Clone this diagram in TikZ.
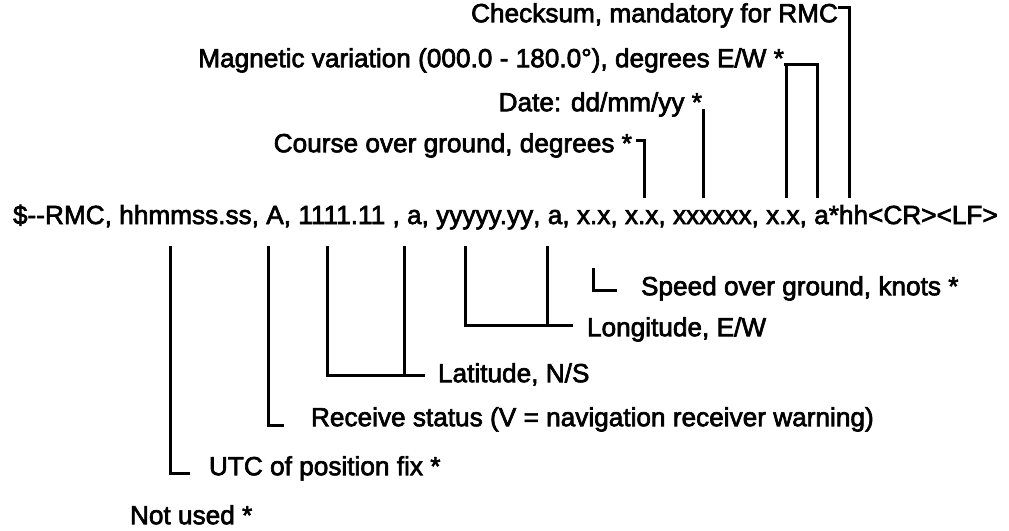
\documentclass[tikz,border=0pt]{standalone}
\usepackage{fontspec}
\setmainfont{Liberation Sans}
\newfontfamily\scanfont{Liberation Sans}[FakeBold=2.5]
\usetikzlibrary{positioning,calc}
\tikzset{
  fld/.style={inner sep=0pt, outer sep=0pt, text height=0.72em, text depth=0.2em},
  note/.style={inner sep=0pt, outer sep=0pt, text height=0.72em, text depth=0.2em},
  lead/.style={line width=1.5pt}
}
\newcommand{\sepc}{,\ \null}

\begin{document}
\begin{tikzpicture}[x=0.5pt, y=-0.5pt, font=\scanfont\fontsize{13.1}{15}\selectfont]
  \useasboundingbox (0,0) rectangle (1009,531);

  % the sentence, one node per field
  \node[fld, anchor=base west] (rmc) at (13,224) {\$--RMC\sepc};
  \node[fld, base right=0pt of rmc] (utc) {hhmmss.ss};
  \node[fld, base right=0pt of utc] (c1) {\sepc};
  \node[fld, base right=0pt of c1] (stat) {A};
  \node[fld, base right=0pt of stat] (c2) {\sepc};
  \node[fld, base right=0pt of c2] (lat) {1111.11};
  \node[fld, base right=0pt of lat] (c3) {\ \sepc};
  \node[fld, base right=0pt of c3] (latns) {a};
  \node[fld, base right=0pt of latns] (c4) {\sepc};
  \node[fld, base right=0pt of c4] (lon) {yyyyy.yy};
  \node[fld, base right=0pt of lon] (c5) {\sepc};
  \node[fld, base right=0pt of c5] (lonew) {a};
  \node[fld, base right=0pt of lonew] (c6) {\sepc};
  \node[fld, base right=0pt of c6] (sog) {x.x};
  \node[fld, base right=0pt of sog] (c7) {\sepc};
  \node[fld, base right=0pt of c7] (cog) {x.x};
  \node[fld, base right=0pt of cog] (c8) {\sepc};
  \node[fld, base right=0pt of c8] (date) {xxxxxx};
  \node[fld, base right=0pt of date] (c9) {\sepc};
  \node[fld, base right=0pt of c9] (mvar) {x.x};
  \node[fld, base right=0pt of mvar] (c10) {\sepc};
  \node[fld, base right=0pt of c10] (mew) {a};
  \node[fld, base right=0pt of mew] (star) {*};
  \node[fld, base right=0pt of star] (cks) {hh};
  \node[fld, base right=0pt of cks] (tail) {<CR><LF>};

  % where the leads meet the fields
  \coordinate (pUtc) at ($(utc.south west)!.39!(utc.south east)$);
  \coordinate (pStat) at ($(stat.south west)!.15!(stat.south east)$);
  \coordinate (pLat) at ($(lat.south west)!.34!(lat.south east)$);
  \coordinate (pLatns) at ($(latns.south west)!-.2!(latns.south east)$);
  \coordinate (pLon) at ($(lon.south west)!.3!(lon.south east)$);
  \coordinate (pLonew) at (lonew.south west);
  \coordinate (pSog) at (sog.south);
  \coordinate (pCog) at ($(cog.north west)!.57!(cog.north east)$);
  \coordinate (pDate) at ($(date.north west)!.39!(date.north east)$);
  \coordinate (pMvar) at ($(mvar.north west)!.6!(mvar.north east)$);
  \coordinate (pMew) at ($(mew.north west)!.2!(mew.north east)$);
  \coordinate (pCks) at ($(cks.north west)!.35!(cks.north east)$);

  % labels above
  \node[note, anchor=east] (cklab) at (838,17) {Checksum, mandatory for RMC};
  \node[note, anchor=east] (maglab) at (784,62) {Magnetic variation (000.0 - 180.0°), degrees E/W *};
  \node[note, anchor=east] (datelab) at (702,106) {Date: dd/mm/yy *};
  \node[note, anchor=east] (coglab) at (632,147) {Course over ground, degrees *};
  \coordinate (magHook) at ([yshift=-1pt]maglab.east);

  % labels below
  \node[note, anchor=west] (spdlab) at (641,290) {Speed over ground, knots *};
  \node[note, anchor=west] (lonlab) at (587,331) {Longitude, E/W};
  \node[note, anchor=west] (latlab) at (438,377) {Latitude, N/S};
  \node[note, anchor=west] (rcvlab) at (311,421) {Receive status (V = navigation receiver warning)};
  \node[note, anchor=west] (utclab) at (209,470) {UTC of position fix *};
  \node[note, anchor=west] (unused) at (130,519) {Not used *};
  \coordinate (lonHook) at ([yshift=3pt]lonlab.west);
  \coordinate (latHook) at ([yshift=1pt]latlab.west);

  % leads
  \draw[lead, shorten >=6pt] ([yshift=5pt]cklab.east) -| (pCks);
  \draw[lead, shorten >=6pt] (magHook) -| (pMew);
  \draw[lead, shorten >=6pt] (pMvar |- magHook) -- (pMvar);
  \draw[lead, shorten >=6pt] ([xshift=1pt, yshift=-2.4pt]datelab.east) -| (pDate);
  \draw[lead, shorten >=6pt] ([xshift=2pt, yshift=3.5pt]coglab.east) -| (pCog);

  \draw[lead, shorten <=20pt, shorten >=12pt] (pSog) |- (spdlab.west);
  \draw[lead, shorten <=9pt, shorten >=7pt] (pLon) |- (lonHook);
  \draw[lead, shorten <=9pt] (pLonew) -- (pLonew |- lonHook);
  \draw[lead, shorten <=9pt, shorten >=6.5pt] (pLat) |- (latHook);
  \draw[lead, shorten <=9pt] (pLatns) -- (pLatns |- latHook);
  \draw[lead, shorten <=9pt, shorten >=13.5pt] (pStat) |- ([yshift=-2pt]rcvlab.west);
  \draw[lead, shorten <=9pt, shorten >=9.5pt] (pUtc) |- ([yshift=-1.5pt]utclab.west);
\end{tikzpicture}
\end{document}
